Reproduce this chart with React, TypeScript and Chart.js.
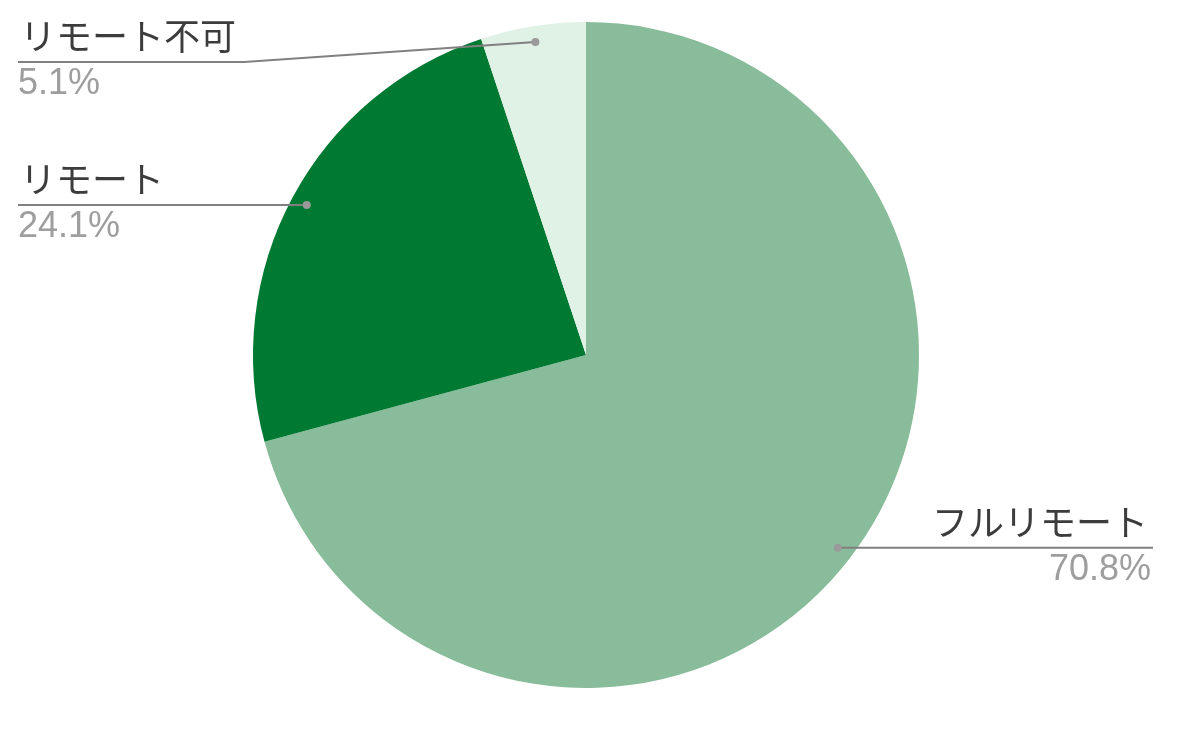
import React, { useEffect, useRef } from "react";
import { Chart, registerables } from "chart.js";

Chart.register(...registerables);

const categories = ["フルリモート", "リモート", "リモート不可"];
const values = [70.8, 24.1, 5.1];
const percentLabels = ["70.8%", "24.1%", "5.1%"];
const colors = ["#88bc9a", "#007932", "#e0f2e6"];

const labelPlugin = {
  id: "leaderLabels",
  afterDatasetsDraw(chart: any) {
    const ctx = chart.ctx as CanvasRenderingContext2D;
    const meta = chart.getDatasetMeta(0);
    const W = chart.width;
    const leftEdge = 18;
    const rightEdge = W - 35;
    const labelFont = "36px 'Noto Sans CJK JP', sans-serif";
    const pctFont = "36px 'Liberation Sans', Arial, sans-serif";
    meta.data.forEach((arc: any, i: number) => {
      const { x, y, startAngle, endAngle, outerRadius } = arc.getProps(
        ["x", "y", "startAngle", "endAngle", "outerRadius"],
        true
      );
      const mid = (startAngle + endAngle) / 2;
      const r = outerRadius * 0.952;
      const dx = x + Math.cos(mid) * r;
      const dy = y + Math.sin(mid) * r;
      const isRight = Math.cos(mid) > 0;
      const lineY = Math.max(dy, 62);
      ctx.save();
      ctx.font = labelFont;
      const tw = ctx.measureText(categories[i]).width;
      let elbowX: number;
      let endX: number;
      if (isRight) {
        endX = rightEdge;
        elbowX = Math.max(dx, rightEdge - tw - 10);
        if (lineY === dy) elbowX = dx;
      } else {
        endX = leftEdge;
        elbowX = leftEdge + tw + 10;
        if (lineY === dy) elbowX = dx;
      }
      ctx.strokeStyle = "#808080";
      ctx.lineWidth = 2;
      ctx.beginPath();
      ctx.moveTo(dx, dy);
      ctx.lineTo(elbowX, lineY);
      ctx.lineTo(endX, lineY);
      ctx.stroke();
      ctx.fillStyle = "#9a9a9a";
      ctx.beginPath();
      ctx.arc(dx, dy, 4, 0, Math.PI * 2);
      ctx.fill();

      ctx.textAlign = isRight ? "right" : "left";
      const tx = isRight ? rightEdge - 2 : leftEdge;
      ctx.textBaseline = "alphabetic";
      ctx.fillStyle = "#3c3c3c";
      ctx.font = labelFont;
      ctx.fillText(categories[i], isRight ? tx - 3 : tx + 2, lineY - 12);
      ctx.fillStyle = "#9e9e9e";
      ctx.font = pctFont;
      ctx.fillText(percentLabels[i], tx, lineY + 32);
      ctx.restore();
    });
  },
};

export default function App() {
  const ref = useRef<HTMLCanvasElement>(null);
  useEffect(() => {
    if (!ref.current) return;
    const chart = new Chart(ref.current, {
      type: "pie",
      data: {
        labels: categories,
        datasets: [
          {
            data: values,
            backgroundColor: colors,
            borderWidth: 0,
          },
        ],
      },
      options: {
        animation: false,
        responsive: false,
        maintainAspectRatio: false,
        layout: { padding: { top: 22, bottom: 42, left: 253, right: 269 } },
        plugins: {
          legend: { display: false },
          tooltip: { enabled: false },
        },
      },
      plugins: [labelPlugin],
    });
    return () => chart.destroy();
  }, []);
  return (
    <div style={{ position: "fixed", left: 0, top: 0, width: 1188, height: 730, background: "#fff" }}>
      <canvas ref={ref} width={1188} height={730} style={{ width: 1188, height: 730 }} />
    </div>
  );
}
